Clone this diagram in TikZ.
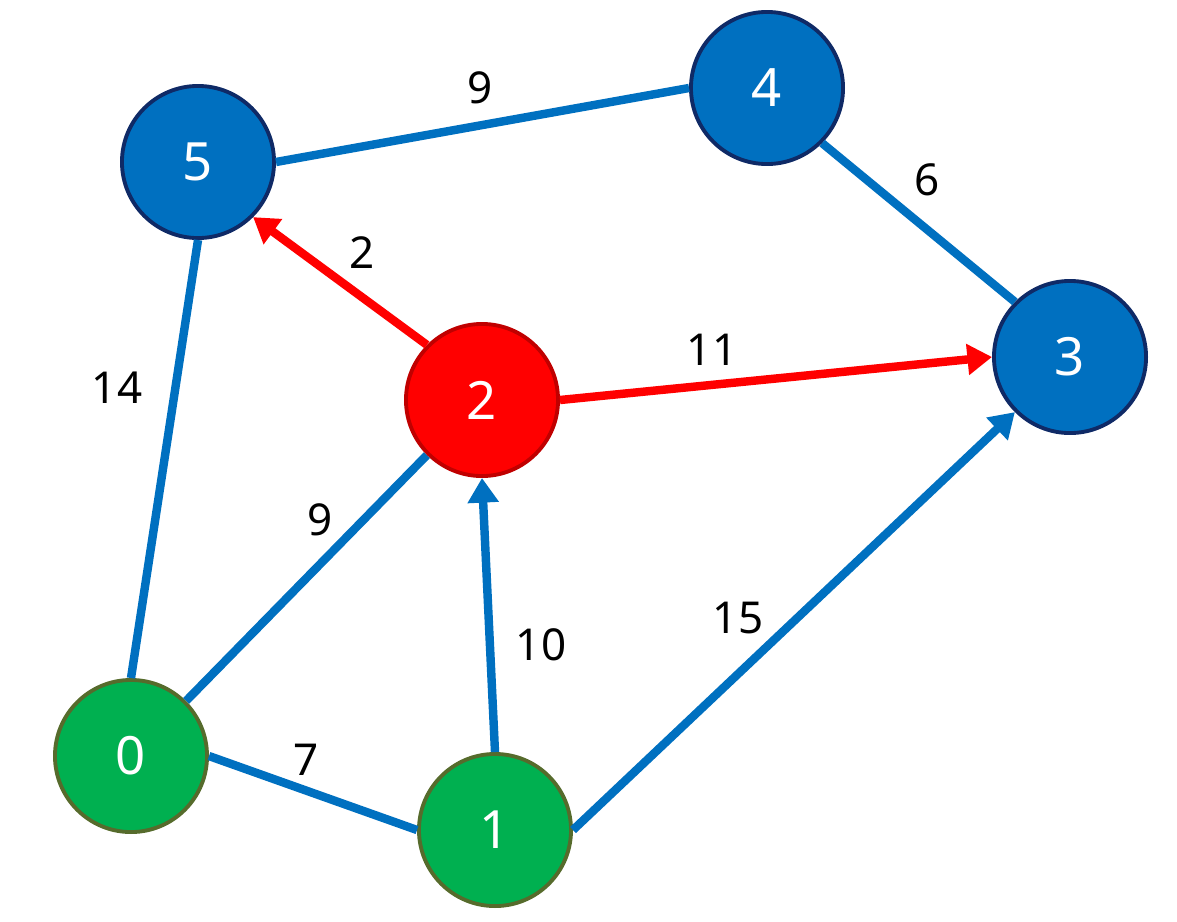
\documentclass[tikz,border=0pt]{standalone}
\usepackage{fontspec}
\setmainfont{Noto Sans}
\usetikzlibrary{arrows.meta}
\definecolor{nblue}{HTML}{0070C0}
\definecolor{nnavy}{HTML}{0F2A66}
\definecolor{nred}{HTML}{FF0000}
\definecolor{ndred}{HTML}{C00000}
\definecolor{ngreen}{HTML}{00B050}
\definecolor{nolive}{HTML}{566B2C}
\tikzset{
  vtx/.style={circle,minimum size=1.52cm,inner sep=0pt,line width=1.1pt,
    text=white,font=\fontsize{15}{15}\selectfont},
  bluev/.style={vtx,fill=nblue,draw=nnavy},
  redv/.style={vtx,fill=nred,draw=ndred},
  greenv/.style={vtx,fill=ngreen,draw=nolive},
  edge/.style={line width=2.4pt,nblue},
  redge/.style={line width=2.4pt,nred},
  tip/.style={-{Triangle[length=7pt,width=8.5pt]}},
  wt/.style={font=\fontsize{12.5}{12.5}\selectfont}
}
\begin{document}
\begin{tikzpicture}[x=0.01cm,y=-0.01cm]
\useasboundingbox (0,0) rectangle (1177,921);
\node[bluev] (v5) at (198,162) {5};
\node[bluev] (v4) at (767,88) {4};
\node[bluev] (v3) at (1070,357) {3};
\node[redv] (v2) at (482,400) {2};
\node[greenv] (v0) at (131,756) {0};
\node[greenv] (v1) at (495,830) {1};
% edges
\draw[edge] (v5.east) -- (v4.west);
\draw[edge] (v4.south east) -- (v3.north west);
\draw[edge] (v0.north) -- (v5.south);
\draw[edge] (v0.north east) -- (v2.south west);
\draw[edge] (v0.east) -- (v1.west);
\draw[edge,tip] (v1.north) -- (v2.south);
\draw[edge,tip] (v1.east) -- (v3.south west);
\draw[redge,tip] (v2.north west) -- (v5.south east);
\draw[redge,tip] (v2.east) -- (v3.west);
% weights
\node[wt] (w54) at (480,88) {9};
\node[wt] (w43) at (927,180) {6};
\node[wt] (w25) at (362,253) {2};
\node[wt] (w23) at (712,350) {11};
\node[wt] (w05) at (117,388) {14};
\node[wt] (w02) at (320,520) {9};
\node[wt] (w12) at (541,645) {10};
\node[wt] (w13) at (738,618) {15};
\node[wt] (w01) at (306,760) {7};
\end{tikzpicture}
\end{document}
